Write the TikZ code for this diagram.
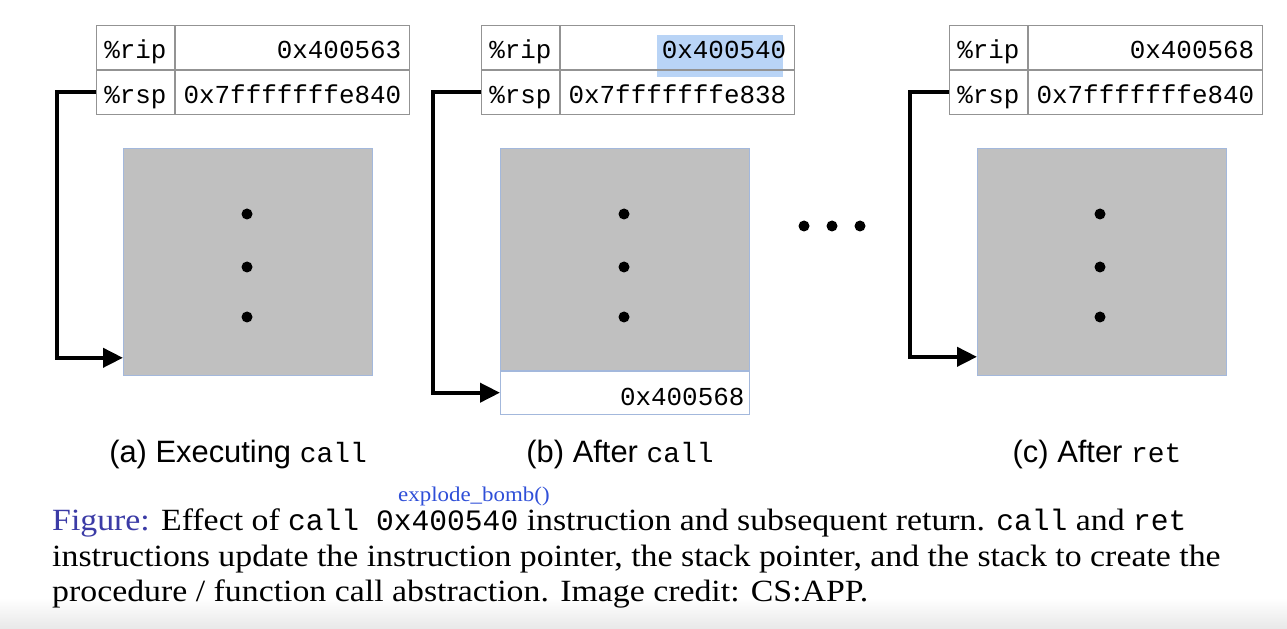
\documentclass[tikz,border=0pt]{standalone}
\usepackage{fontspec}
\setmainfont{Liberation Serif}[FakeStretch=1.095]
\setsansfont{Liberation Sans}
\setmonofont{Liberation Mono}
\usetikzlibrary{positioning,arrows.meta}
\definecolor{stackgray}{HTML}{C0C0C0}
\definecolor{edgeblue}{HTML}{A3B8DC}
\definecolor{selblue}{HTML}{B9D4F6}
\definecolor{figblue}{HTML}{3B3BA6}
\definecolor{noteblue}{HTML}{2F4FD8}
\tikzset{
  regname/.style={draw=gray!85, line width=0.8bp, minimum width=78bp, minimum height=44bp,
    inner sep=0pt, text height=28.5bp, text depth=5.5bp, anchor=north west,
    font=\ttfamily\fontsize{26}{26}\selectfont},
  regval/.style={draw=gray!85, line width=0.8bp, minimum height=44bp, inner xsep=8bp,
    inner ysep=0pt, text height=28.5bp, text depth=5.5bp, text width=218bp, align=right,
    font=\ttfamily\fontsize{26}{26}\selectfont},
  stackbox/.style={draw=edgeblue, line width=0.8bp, fill=stackgray, anchor=north west,
    minimum width=249bp, inner sep=0pt},
  retbox/.style={draw=edgeblue, line width=0.8bp, fill=white, minimum width=249bp,
    minimum height=43bp, inner xsep=5bp, inner ysep=0pt, text height=29.5bp, text depth=4.5bp,
    text width=239bp, align=right, font=\ttfamily\fontsize{26}{26}\selectfont},
  ptr/.style={line width=4bp, -{Triangle[length=20bp,width=19bp]}},
  sublabel/.style={anchor=base, font=\sffamily\fontsize{31}{31}\selectfont},
  capline/.style={anchor=base west, inner sep=0pt, font=\fontsize{31}{36}\selectfont}
}
\newcommand{\capcode}[1]{{\ttfamily\fontsize{29.7}{36}\selectfont #1}}
\begin{document}
\begin{tikzpicture}[x=1bp,y=-1bp]
  \useasboundingbox[fill=white] (0,0) rectangle (1287,629);
  \shade[top color=white, bottom color=gray!18] (0,598) rectangle (1287,629);

  % (a) executing call
  \node[regname] (ripA) at (96,25) {\%rip};
  \node[regval, right=0pt of ripA] (ripvalA) {0x400563};
  \node[regname, below=0pt of ripA] (rspA) {\%rsp};
  \node[regval, right=0pt of rspA] (rspvalA) {0x7fffffffe840};
  \node[stackbox, minimum height=227bp] (stackA) at (123,148) {};
  \foreach \y in {214,267,317}
    \fill (247,\y) circle (5.5);
  \draw[ptr] (rspA.west) -- ++(-39,0) |- ([yshift=18bp]stackA.south west);
  \node[sublabel] (labA) at (238,462) {(a) Executing \texttt{\fontsize{28}{28}\selectfont call}};

  % (b) after call
  \fill[selblue] (657,35) rectangle (783,77);
  \node[regname] (ripB) at (481,25) {\%rip};
  \node[regval, right=0pt of ripB] (ripvalB) {0x400540};
  \node[regname, below=0pt of ripB] (rspB) {\%rsp};
  \node[regval, right=0pt of rspB] (rspvalB) {0x7fffffffe838};
  \node[stackbox, minimum height=222bp] (stackB) at (500,148) {};
  \node[retbox, below=0pt of stackB] (retB) {0x400568};
  \foreach \y in {214,267,317}
    \fill (624,\y) circle (5.5);
  \draw[ptr] (rspB.west) -- ++(-48,0) |- (retB.west);
  \node[sublabel] (labB) at (620,462) {(b) After \texttt{\fontsize{28}{28}\selectfont call}};

  % dots between (b) and (c)
  \foreach \x in {804,832,860}
    \fill (\x,226) circle (5.5);

  % (c) after ret
  \node[regname] (ripC) at (949,25) {\%rip};
  \node[regval, right=0pt of ripC] (ripvalC) {0x400568};
  \node[regname, below=0pt of ripC] (rspC) {\%rsp};
  \node[regval, right=0pt of rspC] (rspvalC) {0x7fffffffe840};
  \node[stackbox, minimum height=227bp] (stackC) at (977,148) {};
  \foreach \y in {214,267,317}
    \fill (1100,\y) circle (5.5);
  \draw[ptr] (rspC.west) -- ++(-39,0) |- ([yshift=19bp]stackC.south west);
  \node[sublabel] (labC) at (1097,462) {(c) After \texttt{\fontsize{28}{28}\selectfont ret}};

  % caption
  \node[capline, text=noteblue, font=\fontsize{21}{21}\selectfont] (note) at (398,501) {explode\_bomb()};
  \node[capline] (cap1) at (52,530) {\textcolor{figblue}{Figure:} Effect of \capcode{call}\hspace{17bp}\capcode{0x400540} instruction and subsequent return. \capcode{call} and \capcode{ret}};
  \node[capline] (cap2) at (52,566) {instructions update the instruction pointer, the stack pointer, and the stack to create the};
  \node[capline] (cap3) at (52,601) {procedure / function call abstraction. Image credit: CS:APP.};
\end{tikzpicture}
\end{document}
